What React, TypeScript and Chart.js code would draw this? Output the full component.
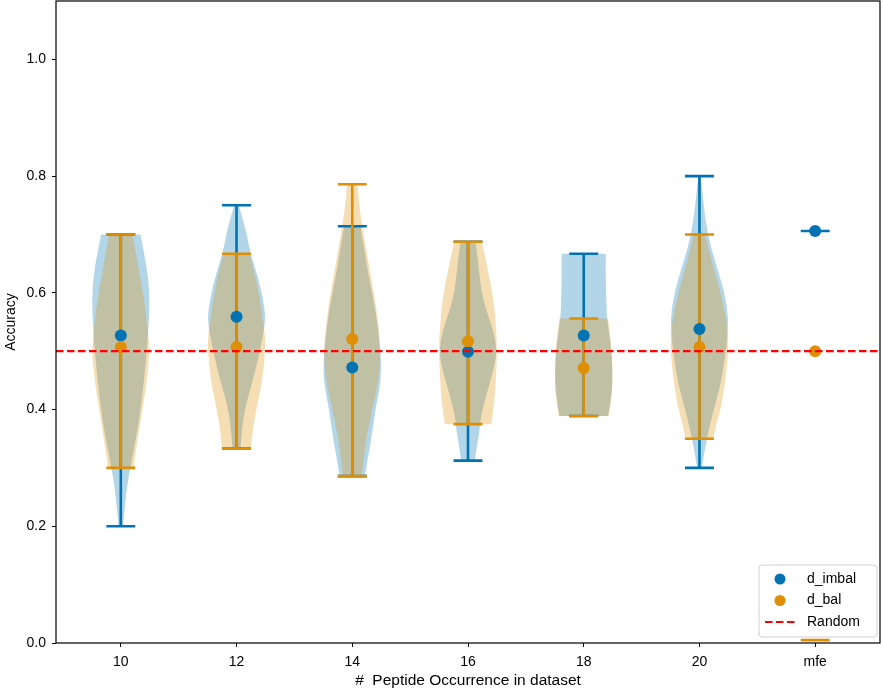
import { useEffect, useRef } from "react";
import Chart from "chart.js/auto";

const categories = ["10", "12", "14", "16", "18", "20", "mfe"];
const yTicks = [0, 0.2, 0.4, 0.6, 0.8, 1.0];
const randomLevel = 0.5;

// d_imbal summary
const imbalMean = [0.527, 0.559, 0.472, 0.499, 0.527, 0.538, 0.706];
const imbalMin = [0.2, 0.333, 0.286, 0.3125, 0.389, 0.3, 0.706];
const imbalMax = [0.7, 0.75, 0.714, 0.6875, 0.667, 0.8, 0.706];

// d_bal summary
const balMean = [0.507, 0.507, 0.521, 0.517, 0.471, 0.507, 0.5];
const balMin = [0.3, 0.333, 0.286, 0.375, 0.389, 0.35, 0.005];
const balMax = [0.7, 0.667, 0.786, 0.6875, 0.556, 0.7, 0.005];

// violin outlines: accuracy levels and half widths (x units)
const imbalLevels = [
  [0.2, 0.26, 0.32, 0.37, 0.43, 0.49, 0.54, 0.59, 0.64, 0.7],
  [0.333, 0.378, 0.424, 0.463, 0.509, 0.549, 0.578, 0.624, 0.667, 0.709, 0.75],
  [0.286, 0.3, 0.344, 0.4, 0.446, 0.48, 0.515, 0.573, 0.629, 0.68, 0.714],
  [0.3125, 0.335, 0.364, 0.386, 0.42, 0.467, 0.5, 0.535, 0.592, 0.65, 0.6875],
  [0.389, 0.424, 0.463, 0.51, 0.556, 0.59, 0.624, 0.667],
  [0.3, 0.318, 0.352, 0.398, 0.444, 0.489, 0.523, 0.557, 0.603, 0.65, 0.7, 0.752, 0.8],
  [],
];
const imbalWidths = [
  [0.02, 0.045, 0.1, 0.15, 0.19, 0.22, 0.24, 0.25, 0.23, 0.17],
  [0.035, 0.05, 0.1, 0.16, 0.21, 0.25, 0.24, 0.19, 0.12, 0.08, 0.02],
  [0.11, 0.12, 0.16, 0.2, 0.245, 0.25, 0.235, 0.2, 0.14, 0.1, 0.07],
  [0.06, 0.075, 0.1, 0.11, 0.15, 0.22, 0.25, 0.22, 0.12, 0.09, 0.065],
  [0.21, 0.24, 0.25, 0.235, 0.2, 0.195, 0.19, 0.19],
  [0.02, 0.035, 0.065, 0.12, 0.185, 0.22, 0.24, 0.25, 0.215, 0.14, 0.07, 0.035, 0.01],
  [],
];
const balLevels = [
  [0.3, 0.33, 0.38, 0.44, 0.5, 0.52, 0.58, 0.64, 0.7],
  [0.333, 0.356, 0.395, 0.436, 0.48, 0.52, 0.549, 0.578, 0.624, 0.667],
  [0.286, 0.3, 0.344, 0.4, 0.446, 0.5, 0.573, 0.629, 0.715, 0.75, 0.786],
  [0.375, 0.386, 0.42, 0.467, 0.5, 0.535, 0.592, 0.65, 0.6875],
  [0.389, 0.424, 0.47, 0.51, 0.556],
  [0.35, 0.376, 0.398, 0.444, 0.489, 0.523, 0.557, 0.603, 0.65, 0.7],
  [],
];
const balWidths = [
  [0.11, 0.13, 0.17, 0.22, 0.25, 0.24, 0.21, 0.155, 0.1],
  [0.125, 0.135, 0.165, 0.21, 0.24, 0.25, 0.23, 0.21, 0.17, 0.11],
  [0.08, 0.09, 0.115, 0.17, 0.225, 0.25, 0.21, 0.16, 0.085, 0.06, 0.045],
  [0.2, 0.21, 0.23, 0.245, 0.25, 0.245, 0.22, 0.16, 0.12],
  [0.215, 0.245, 0.25, 0.24, 0.21],
  [0.12, 0.145, 0.18, 0.22, 0.245, 0.25, 0.23, 0.18, 0.11, 0.05],
  [],
];

const BLUE = "#0173b2";
const ORANGE = "#de8f05";
const BLUE_FILL = "rgba(1, 115, 178, 0.3)";
const ORANGE_FILL = "rgba(222, 143, 5, 0.3)";
const FONT = "'Liberation Sans', Arial, sans-serif";
const CAP = 0.125;

type Pt = [number, number];

function smoothSide(ctx: CanvasRenderingContext2D, pts: Pt[], first: boolean) {
  if (first) ctx.moveTo(pts[0][0], pts[0][1]);
  else ctx.lineTo(pts[0][0], pts[0][1]);
  for (let i = 1; i < pts.length - 1; i++) {
    const mx = (pts[i][0] + pts[i + 1][0]) / 2;
    const my = (pts[i][1] + pts[i + 1][1]) / 2;
    ctx.quadraticCurveTo(pts[i][0], pts[i][1], mx, my);
  }
  const last = pts[pts.length - 1];
  ctx.lineTo(last[0], last[1]);
}

const violinPlugin = {
  id: "violins",
  beforeDatasetsDraw(chart: any) {
    const { ctx, chartArea } = chart;
    const xs = chart.scales.x;
    const ys = chart.scales.y;
    ctx.save();
    ctx.beginPath();
    ctx.rect(chartArea.left, chartArea.top, chartArea.right - chartArea.left, chartArea.bottom - chartArea.top);
    ctx.clip();

    const bodies = [
      { levels: imbalLevels, widths: imbalWidths, fill: BLUE_FILL },
      { levels: balLevels, widths: balWidths, fill: ORANGE_FILL },
    ];
    bodies.forEach((b) => {
      b.levels.forEach((lv, i) => {
        if (lv.length < 2) return;
        const w = b.widths[i];
        const left: Pt[] = lv.map((v, k) => [xs.getPixelForValue(i - w[k]), ys.getPixelForValue(v)]);
        const right: Pt[] = lv
          .map((v, k) => [xs.getPixelForValue(i + w[k]), ys.getPixelForValue(v)] as Pt)
          .reverse();
        ctx.beginPath();
        smoothSide(ctx, left, true);
        smoothSide(ctx, right, false);
        ctx.closePath();
        ctx.fillStyle = b.fill;
        ctx.fill();
      });
    });

    const lines = [
      { mins: imbalMin, maxs: imbalMax, color: BLUE },
      { mins: balMin, maxs: balMax, color: ORANGE },
    ];
    ctx.lineWidth = 2.6;
    lines.forEach((l) => {
      ctx.strokeStyle = l.color;
      l.mins.forEach((mn, i) => {
        const mx = l.maxs[i];
        const cx = xs.getPixelForValue(i);
        ctx.beginPath();
        ctx.moveTo(cx, ys.getPixelForValue(mn));
        ctx.lineTo(cx, ys.getPixelForValue(mx));
        [mn, mx].forEach((v) => {
          ctx.moveTo(xs.getPixelForValue(i - CAP), ys.getPixelForValue(v));
          ctx.lineTo(xs.getPixelForValue(i + CAP), ys.getPixelForValue(v));
        });
        ctx.stroke();
      });
    });
    ctx.restore();
  },
  afterDatasetsDraw(chart: any) {
    const { ctx, chartArea } = chart;
    const y = chart.scales.y.getPixelForValue(randomLevel);
    ctx.save();
    ctx.strokeStyle = "#ff0000";
    ctx.lineWidth = 2.2;
    ctx.setLineDash([7.5, 3.5]);
    ctx.beginPath();
    ctx.moveTo(chartArea.left, y);
    ctx.lineTo(chartArea.right, y);
    ctx.stroke();
    ctx.setLineDash([]);

    // frame
    ctx.strokeStyle = "#000";
    ctx.lineWidth = 1.2;
    ctx.strokeRect(chartArea.left, chartArea.top, chartArea.right - chartArea.left, chartArea.bottom - chartArea.top);

    // legend
    const bw = 118;
    const bh = 72;
    const bx = chartArea.right - bw - 3;
    const by = chartArea.bottom - bh - 6;
    ctx.beginPath();
    ctx.roundRect(bx, by, bw, bh, 3);
    ctx.fillStyle = "rgba(255,255,255,0.8)";
    ctx.fill();
    ctx.strokeStyle = "#d0d0d0";
    ctx.lineWidth = 1;
    ctx.stroke();

    const items = [
      { label: "d_imbal", kind: "dot", color: BLUE },
      { label: "d_bal", kind: "dot", color: ORANGE },
      { label: "Random", kind: "dash", color: "#ff0000" },
    ];
    ctx.font = `14px ${FONT}`;
    ctx.textBaseline = "middle";
    items.forEach((it, k) => {
      const cy = by + 14 + k * 21.5;
      if (it.kind === "dot") {
        ctx.beginPath();
        ctx.arc(bx + 21, cy, 5.5, 0, Math.PI * 2);
        ctx.fillStyle = it.color;
        ctx.fill();
      } else {
        ctx.strokeStyle = it.color;
        ctx.lineWidth = 2.2;
        ctx.setLineDash([7.5, 3.5]);
        ctx.beginPath();
        ctx.moveTo(bx + 6, cy);
        ctx.lineTo(bx + 36, cy);
        ctx.stroke();
        ctx.setLineDash([]);
      }
      ctx.fillStyle = "#000";
      ctx.fillText(it.label, bx + 48, cy);
    });
    ctx.restore();
  },
};

export default function App() {
  const chartRef = useRef<HTMLCanvasElement>(null);

  useEffect(() => {
    document.body.style.margin = "0";
    if (!chartRef.current) return;

    const chart = new Chart(chartRef.current, {
      type: "scatter",
      data: {
        datasets: [
          {
            label: "d_imbal",
            data: imbalMean.map((y, i) => ({ x: i, y })),
            backgroundColor: BLUE,
            borderWidth: 0,
            pointRadius: 6,
            order: 1,
          },
          {
            label: "d_bal",
            data: balMean.map((y, i) => ({ x: i, y })),
            backgroundColor: ORANGE,
            borderWidth: 0,
            pointRadius: 6,
            order: 0,
          },
        ],
      },
      options: {
        responsive: false,
        animation: false,
        layout: { autoPadding: false, padding: { top: 1, right: 3, left: 0, bottom: 0 } },
        plugins: {
          legend: { display: false },
          tooltip: { enabled: false },
        },
        scales: {
          x: {
            type: "linear",
            min: -0.56,
            max: 6.56,
            afterBuildTicks: (scale: any) => {
              scale.ticks = categories.map((_, i) => ({ value: i }));
            },
            afterFit: (scale: any) => {
              scale.height = 48;
              scale.paddingLeft = 0;
              scale.paddingRight = 0;
            },
            ticks: {
              callback: (v: any) => categories[v] ?? "",
              color: "#000",
              padding: 7,
              font: { family: FONT, size: 14 },
              maxRotation: 0,
            },
            grid: { drawOnChartArea: false, tickLength: 4, color: "#000" },
            border: { display: false },
            title: {
              display: true,
              text: "#  Peptide Occurrence in dataset",
              color: "#000",
              font: { family: FONT, size: 15.5 },
              padding: { top: 0, bottom: 1 },
            },
          },
          y: {
            min: 0,
            max: 1.1,
            afterBuildTicks: (scale: any) => {
              scale.ticks = yTicks.map((value) => ({ value }));
            },
            afterFit: (scale: any) => {
              scale.width = 56;
              scale.paddingTop = 0;
              scale.paddingBottom = 0;
            },
            ticks: {
              callback: (v: any) => Number(v).toFixed(1),
              color: "#000",
              padding: 6,
              font: { family: FONT, size: 14 },
            },
            grid: { drawOnChartArea: false, tickLength: 4, color: "#000" },
            border: { display: false },
            title: {
              display: true,
              text: "Accuracy",
              color: "#000",
              font: { family: FONT, size: 14 },
              padding: { top: 3, bottom: 0 },
            },
          },
        },
      },
      plugins: [violinPlugin],
    });

    return () => {
      chart.destroy();
    };
  }, []);

  return <canvas ref={chartRef} width={883} height={691} style={{ display: "block" }} />;
}
